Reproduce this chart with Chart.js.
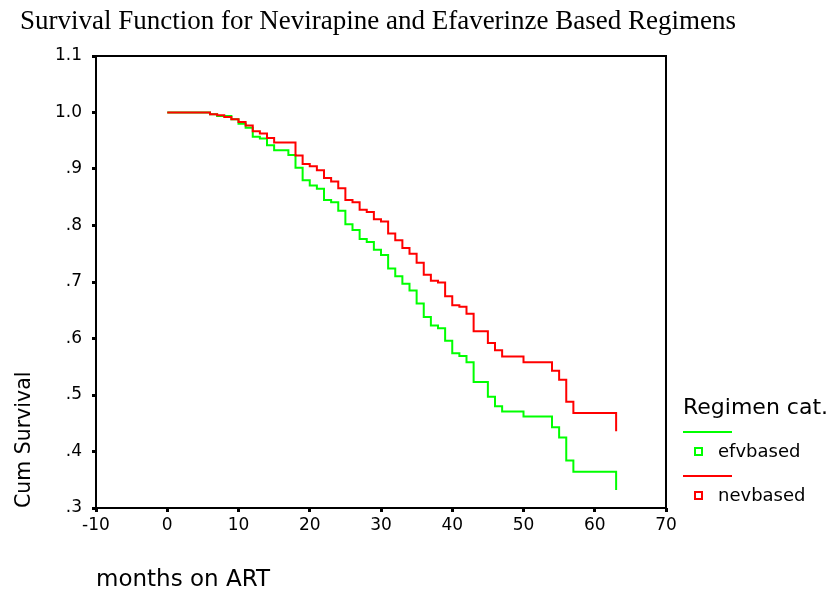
<!DOCTYPE html>
<html>
<head>
<meta charset="utf-8">
<script src="https://cdn.jsdelivr.net/npm/chart.js@4/dist/chart.umd.min.js"></script>
<style>
  body { margin: 0; background: #fff; }
</style>
</head>
<body>
<canvas id="survChart" width="837" height="595"></canvas>
<script>
// Kaplan-Meier steps (month of drop, survival after it)
const efvMonths = [0, 6, 7, 9, 10, 11, 12, 13, 14, 15, 17, 18, 19, 20, 21, 22, 23, 24, 25, 26, 27, 28, 29, 30, 31, 32, 33, 34, 35, 36, 37, 38, 39, 40, 41, 42, 43, 45, 46, 47, 50, 54, 55, 56, 57, 63];
const efvSurvival = [1.0, .997, .994, .988, .980, .973, .957, .954, .942, .933, .925, .902, .880, .871, .865, .845, .841, .826, .802, .792, .776, .771, .757, .748, .724, .710, .697, .685, .662, .638, .623, .618, .596, .574, .569, .558, .523, .497, .480, .471, .462, .443, .425, .384, .364, .332];

const nevMonths = [0, 6, 7, 8, 9, 10, 11, 12, 13, 14, 15, 18, 19, 20, 21, 22, 23, 24, 25, 26, 27, 28, 29, 30, 31, 32, 33, 34, 35, 36, 37, 38, 39, 40, 41, 42, 43, 45, 46, 47, 50, 54, 55, 56, 57, 63];
const nevSurvival = [1.0, .997, .995, .992, .988, .983, .977, .967, .963, .955, .947, .924, .909, .905, .898, .884, .878, .866, .845, .841, .828, .824, .811, .807, .786, .774, .760, .750, .734, .713, .702, .699, .675, .659, .656, .644, .613, .592, .579, .568, .558, .543, .527, .488, .468, .436];

const seriesNames = ['efvbased', 'nevbased'];
const xTicks = [-10, 0, 10, 20, 30, 40, 50, 60, 70];
const xTickLabels = ['-10', '0', '10', '20', '30', '40', '50', '60', '70'];
const yTicks = [0.3, 0.4, 0.5, 0.6, 0.7, 0.8, 0.9, 1.0, 1.1];
const yTickLabels = ['.3', '.4', '.5', '.6', '.7', '.8', '.9', '1.0', '1.1'];
const legendTitle = 'Regimen cat.';

function toPoints(months, surv) {
    return months.map((m, i) => ({ x: m, y: surv[i] }));
}

// box round the plot area
const framePlugin = {
    id: 'frame',
    afterDatasetsDraw(chart) {
        const { left, top, right, bottom } = chart.chartArea;
        const ctx = chart.ctx;
        ctx.save();
        ctx.strokeStyle = '#000';
        ctx.lineWidth = 2;
        ctx.strokeRect(left, top, right - left, bottom - top);
        ctx.restore();
    }
};

// SPSS style legend: line above, small hollow square next to the label
const legendPlugin = {
    id: 'spssLegend',
    afterDraw(chart) {
        const ctx = chart.ctx;
        ctx.save();
        ctx.fillStyle = '#000';
        ctx.font = '22px "DejaVu Sans"';
        ctx.textBaseline = 'alphabetic';
        ctx.fillText(legendTitle, 683, 414);
        chart.data.datasets.forEach((ds, i) => {
            const lineY = 432 + i * 44;
            ctx.strokeStyle = ds.borderColor;
            ctx.lineWidth = 2;
            ctx.beginPath();
            ctx.moveTo(683, lineY);
            ctx.lineTo(732, lineY);
            ctx.stroke();
            ctx.strokeRect(695, lineY + 16, 7, 7);
            ctx.fillStyle = '#000';
            ctx.font = '18px "DejaVu Sans"';
            ctx.textBaseline = 'middle';
            ctx.fillText(ds.label, 718, lineY + 20);
        });
        ctx.restore();
    }
};

const ctx = document.getElementById('survChart').getContext('2d');
new Chart(ctx, {
    type: 'line',
    data: {
        datasets: [{
            label: seriesNames[0],
            data: toPoints(efvMonths, efvSurvival),
            borderColor: '#00ff00',
            borderWidth: 2,
            pointRadius: 0,
            stepped: true,
            fill: false,
            order: 2
        }, {
            label: seriesNames[1],
            data: toPoints(nevMonths, nevSurvival),
            borderColor: '#ff0000',
            borderWidth: 2,
            pointRadius: 0,
            stepped: true,
            fill: false,
            order: 1
        }]
    },
    options: {
        responsive: false,
        animation: false,
        events: [],
        layout: { padding: { left: 20, top: 0, right: 0, bottom: 0 } },
        plugins: {
            legend: { display: false },
            tooltip: { enabled: false },
            title: {
                display: true,
                text: 'Survival Function for Nevirapine and Efaverinze Based Regimens',
                align: 'start',
                color: '#000',
                font: { family: 'Liberation Serif', size: 27, weight: 'normal' },
                padding: { top: 6, bottom: 17.6 }
            }
        },
        scales: {
            x: {
                type: 'linear',
                min: -10,
                max: 70,
                afterBuildTicks: scale => { scale.ticks = xTicks.map(v => ({ value: v })); },
                afterFit: scale => { scale.height = 87; },
                ticks: {
                    color: '#000',
                    padding: 3,
                    maxRotation: 0,
                    font: { family: 'DejaVu Sans', size: 17 },
                    callback: (v, i) => xTickLabels[i]
                },
                grid: { drawOnChartArea: false, drawTicks: true, tickLength: 4, tickWidth: 3, tickColor: '#000' },
                border: { display: false },
                title: {
                    display: true,
                    text: 'months on ART',
                    align: 'start',
                    color: '#000',
                    font: { family: 'DejaVu Sans', size: 23 },
                    padding: { top: 0, bottom: 1 }
                }
            },
            y: {
                type: 'linear',
                min: 0.3,
                max: 1.1,
                afterBuildTicks: scale => { scale.ticks = yTicks.map(v => ({ value: v })); },
                afterFit: scale => { scale.width = 76; },
                ticks: {
                    color: '#000',
                    padding: 10,
                    font: { family: 'DejaVu Sans', size: 17 },
                    callback: (v, i) => yTickLabels[i]
                },
                grid: { drawOnChartArea: false, drawTicks: true, tickLength: 4, tickWidth: 3, tickColor: '#000' },
                border: { display: false },
                title: {
                    display: true,
                    text: 'Cum Survival',
                    align: 'start',
                    color: '#000',
                    font: { family: 'DejaVu Sans', size: 20.5 },
                    padding: { top: -8, bottom: 0 }
                }
            },
            side: {
                type: 'linear',
                position: 'right',
                display: true,
                afterFit: scale => { scale.width = 171; },
                ticks: { display: false },
                grid: { display: false },
                border: { display: false }
            }
        }
    },
    plugins: [framePlugin, legendPlugin]
});
</script>
</body>
</html>
